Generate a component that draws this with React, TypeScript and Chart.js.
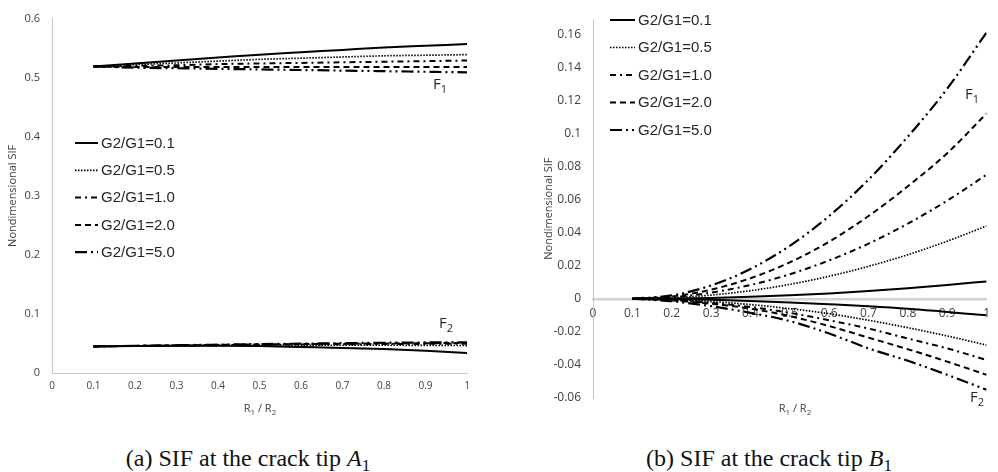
import React, { useEffect, useRef } from "react";
import { Chart, registerables } from "chart.js";

Chart.register(...registerables);

// ---------- data ----------
const rRatio = [0.1, 0.2, 0.3, 0.4, 0.5, 0.6, 0.7, 0.8, 0.9, 1.0];
const ratioLabels = ["G2/G1=0.1", "G2/G1=0.5", "G2/G1=1.0", "G2/G1=2.0", "G2/G1=5.0"];

// (a) crack tip A1
const aF1_g01 = [0.519, 0.524, 0.529, 0.534, 0.539, 0.543, 0.547, 0.551, 0.554, 0.557];
const aF1_g05 = [0.519, 0.522, 0.525, 0.528, 0.531, 0.533, 0.535, 0.537, 0.538, 0.539];
const aF1_g10 = [0.519, 0.52, 0.521, 0.523, 0.524, 0.525, 0.526, 0.527, 0.528, 0.529];
const aF1_g20 = [0.519, 0.518, 0.518, 0.518, 0.518, 0.518, 0.518, 0.518, 0.518, 0.518];
const aF1_g50 = [0.519, 0.517, 0.516, 0.515, 0.514, 0.513, 0.512, 0.511, 0.51, 0.509];

const aF2_g01 = [0.045, 0.0455, 0.046, 0.046, 0.0455, 0.044, 0.0425, 0.0405, 0.0375, 0.034];
const aF2_g05 = [0.045, 0.0455, 0.046, 0.0465, 0.047, 0.047, 0.047, 0.047, 0.0468, 0.0465];
const aF2_g10 = [0.045, 0.0458, 0.0465, 0.047, 0.0478, 0.0482, 0.0487, 0.049, 0.0493, 0.0495];
const aF2_g20 = [0.045, 0.046, 0.0468, 0.0476, 0.0484, 0.049, 0.0496, 0.05, 0.0505, 0.051];
const aF2_g50 = [0.045, 0.046, 0.047, 0.048, 0.049, 0.0497, 0.0505, 0.0512, 0.0517, 0.052];

// (b) crack tip B1
const bF1_g01 = [0, 0.0001, 0.0005, 0.0012, 0.0021, 0.0032, 0.0047, 0.0064, 0.0083, 0.0105];
const bF1_g05 = [0, 0.0005, 0.0022, 0.0049, 0.0087, 0.0136, 0.0196, 0.0266, 0.0348, 0.044];
const bF1_g10 = [0, 0.0009, 0.0037, 0.0083, 0.0148, 0.0232, 0.0333, 0.0454, 0.0593, 0.075];
const bF1_g20 = [0, 0.0014, 0.0055, 0.0124, 0.022, 0.0345, 0.05, 0.068, 0.088, 0.112];
const bF1_g50 = [0, 0.002, 0.008, 0.018, 0.032, 0.05, 0.072, 0.098, 0.127, 0.161];

const bF2_g01 = [0, -0.0002, -0.0006, -0.0013, -0.0022, -0.0033, -0.0045, -0.006, -0.008, -0.01];
const bF2_g05 = [0, -0.0005, -0.0017, -0.0035, -0.006, -0.009, -0.013, -0.0175, -0.0225, -0.028];
const bF2_g10 = [0, -0.0008, -0.0025, -0.005, -0.0085, -0.013, -0.018, -0.024, -0.03, -0.037];
const bF2_g20 = [0, -0.001, -0.003, -0.006, -0.0105, -0.0165, -0.0235, -0.0305, -0.038, -0.046];
const bF2_g50 = [0, -0.0015, -0.0045, -0.0085, -0.0135, -0.021, -0.03, -0.0375, -0.046, -0.055];

// ticks
const xTickValues = [0, 0.1, 0.2, 0.3, 0.4, 0.5, 0.6, 0.7, 0.8, 0.9, 1];
const xTickLabels = ["0", "0.1", "0.2", "0.3", "0.4", "0.5", "0.6", "0.7", "0.8", "0.9", "1"];
const aYTickValues = [0, 0.1, 0.2, 0.3, 0.4, 0.5, 0.6];
const aYTickLabels = ["0", "0.1", "0.2", "0.3", "0.4", "0.5", "0.6"];
const bYTickValues = [-0.06, -0.04, -0.02, 0, 0.02, 0.04, 0.06, 0.08, 0.1, 0.12, 0.14, 0.16];
const bYTickLabels = ["-0.06", "-0.04", "-0.02", "0", "0.02", "0.04", "0.06", "0.08", "0.1", "0.12", "0.14", "0.16"];

// ---------- styles ----------
const FONT = '"Open Sans", sans-serif';
const TICK_COLOR = "#404040";
const AXIS_COLOR = "#c6c6c6";
const lineDashes = [[], [1.5, 1.5], [6, 4, 2, 4], [6, 4], [12, 4, 2, 4, 2, 4]];
const lineWidths = [2, 1.7, 2, 2, 2.2];

function buildDatasets(f1: number[][], f2: number[][]) {
  const ds: any[] = [];
  [f1, f2].forEach((group, g) =>
    group.forEach((vals, i) =>
      ds.push({
        label: `${ratioLabels[i]} F${g + 1}`,
        data: vals.map((v, k) => ({ x: rRatio[k], y: v })),
        borderColor: "#000",
        backgroundColor: "#000",
        borderWidth: lineWidths[i],
        borderDash: lineDashes[i],
        borderCapStyle: "butt",
        pointRadius: 0,
        fill: false,
        cubicInterpolationMode: "monotone",
      })
    )
  );
  return ds;
}

function legendPlugin(x0: number, x1: number, textX: number, y0: number, dy: number) {
  return {
    id: "customLegend",
    afterDraw(chart: any) {
      const ctx = chart.ctx;
      ctx.save();
      ratioLabels.forEach((lab, i) => {
        const y = y0 + i * dy;
        ctx.beginPath();
        ctx.setLineDash(lineDashes[i]);
        ctx.lineWidth = lineWidths[i];
        ctx.strokeStyle = "#000";
        ctx.moveTo(x0, y);
        ctx.lineTo(x1, y);
        ctx.stroke();
        ctx.setLineDash([]);
        ctx.fillStyle = "#262626";
        ctx.font = '15px "Liberation Sans", Arial, sans-serif';
        ctx.textBaseline = "middle";
        ctx.textAlign = "left";
        ctx.fillText(lab, textX, y + 0.5);
      });
      ctx.restore();
    },
  };
}

type SubText = { main: string; sub: string; x: number; y: number; size: number; subSize: number; drop: number };

function drawSubText(ctx: CanvasRenderingContext2D, parts: [string, boolean][], x: number, y: number, size: number, subSize: number, drop: number, center: boolean) {
  const widths = parts.map(([t, s]) => {
    ctx.font = `${s ? subSize : size}px ${FONT}`;
    return ctx.measureText(t).width;
  });
  const total = widths.reduce((a, b) => a + b, 0);
  let cx = center ? x - total / 2 : x;
  parts.forEach(([t, s], i) => {
    ctx.font = `${s ? subSize : size}px ${FONT}`;
    ctx.fillText(t, cx, s ? y + drop : y);
    cx += widths[i];
  });
}

function labelsPlugin(fLabels: SubText[], titleX: number, titleY: number) {
  return {
    id: "customLabels",
    afterDraw(chart: any) {
      const ctx = chart.ctx;
      ctx.save();
      ctx.fillStyle = "#262626";
      ctx.textBaseline = "alphabetic";
      ctx.textAlign = "left";
      fLabels.forEach((f) => {
        drawSubText(ctx, [[f.main, false], [f.sub, true]], f.x, f.y, f.size, f.subSize, f.drop, false);
      });
      ctx.fillStyle = TICK_COLOR;
      drawSubText(ctx, [["R", false], ["1", true], [" / R", false], ["2", true]], titleX, titleY, 11, 8, 2.5, true);
      ctx.restore();
    },
  };
}

function tickSetter(values: number[]) {
  return (scale: any) => {
    scale.ticks = values.map((v) => ({ value: v }));
  };
}

function configA(): any {
  return {
    type: "line",
    data: {
      datasets: buildDatasets(
        [aF1_g01, aF1_g05, aF1_g10, aF1_g20, aF1_g50],
        [aF2_g01, aF2_g05, aF2_g10, aF2_g20, aF2_g50]
      ),
    },
    options: {
      responsive: false,
      animation: false,
      layout: { padding: { left: 2, top: 12, right: 33, bottom: 0 } },
      plugins: { legend: { display: false }, tooltip: { enabled: false } },
      scales: {
        x: {
          type: "linear",
          min: 0,
          max: 1,
          afterBuildTicks: tickSetter(xTickValues),
          afterFit: (s: any) => {
            s.height = 47;
          },
          grid: { display: false, drawTicks: false },
          border: { display: true, color: AXIS_COLOR, width: 1 },
          ticks: {
            padding: 7,
            color: TICK_COLOR,
            font: { family: FONT, size: 10 },
            maxRotation: 0,
            autoSkip: false,
            callback: (_v: any, i: number) => xTickLabels[i],
          },
        },
        y: {
          type: "linear",
          min: 0,
          max: 0.6,
          afterBuildTicks: tickSetter(aYTickValues),
          afterFit: (s: any) => {
            s.width = 50;
          },
          grid: { display: false, drawTicks: false },
          border: { display: true, color: AXIS_COLOR, width: 1 },
          ticks: {
            padding: 12,
            color: TICK_COLOR,
            font: { family: FONT, size: 11 },
            autoSkip: false,
            callback: (_v: any, i: number) => aYTickLabels[i],
          },
          title: {
            display: true,
            text: "Nondimensional SIF",
            color: TICK_COLOR,
            font: { family: FONT, size: 11 },
            padding: { top: 4, bottom: 0 },
          },
        },
      },
    },
    plugins: [
      legendPlugin(75, 98, 101, 143, 27.3),
      labelsPlugin(
        [
          { main: "F", sub: "1", x: 433, y: 89, size: 15, subSize: 11, drop: 4 },
          { main: "F", sub: "2", x: 439, y: 328, size: 15, subSize: 11, drop: 4 },
        ],
        260,
        412
      ),
    ],
  };
}

function configB(): any {
  return {
    type: "line",
    data: {
      datasets: buildDatasets(
        [bF1_g01, bF1_g05, bF1_g10, bF1_g20, bF1_g50],
        [bF2_g01, bF2_g05, bF2_g10, bF2_g20, bF2_g50]
      ),
    },
    options: {
      responsive: false,
      animation: false,
      layout: { padding: { left: 38, top: 12, right: 4, bottom: 22 } },
      plugins: { legend: { display: false }, tooltip: { enabled: false } },
      scales: {
        x: {
          type: "linear",
          min: 0,
          max: 1,
          position: { y: 0 },
          afterBuildTicks: tickSetter(xTickValues),
          grid: { display: false, drawTicks: false },
          border: { display: true, color: "#d2d2d2", width: 2.5 },
          ticks: {
            padding: 8,
            color: TICK_COLOR,
            font: { family: FONT, size: 12 },
            maxRotation: 0,
            autoSkip: false,
            callback: (_v: any, i: number) => xTickLabels[i],
          },
        },
        y: {
          type: "linear",
          min: -0.06,
          max: 0.169,
          afterBuildTicks: tickSetter(bYTickValues),
          afterFit: (s: any) => {
            s.width = 55;
          },
          grid: { display: false, drawTicks: false },
          border: { display: true, color: AXIS_COLOR, width: 1 },
          ticks: {
            padding: 12,
            color: TICK_COLOR,
            font: { family: FONT, size: 12 },
            autoSkip: false,
            callback: (_v: any, i: number) => bYTickLabels[i],
          },
          title: {
            display: true,
            text: "Nondimensional SIF",
            color: TICK_COLOR,
            font: { family: FONT, size: 11 },
            padding: { top: 4, bottom: 0 },
          },
        },
      },
    },
    plugins: [
      legendPlugin(110, 135, 138, 20, 27.5),
      labelsPlugin(
        [
          { main: "F", sub: "1", x: 465, y: 99, size: 15, subSize: 11, drop: 4 },
          { main: "F", sub: "2", x: 470, y: 402, size: 15, subSize: 11, drop: 4 },
        ],
        295,
        412
      ),
    ],
  };
}

function ChartCanvas({ config, left, width, height }: { config: () => any; left: number; width: number; height: number }) {
  const ref = useRef<HTMLCanvasElement | null>(null);
  useEffect(() => {
    if (!ref.current) return;
    const chart = new Chart(ref.current, config());
    return () => chart.destroy();
  }, [config]);
  return (
    <canvas
      ref={ref}
      width={width}
      height={height}
      style={{ position: "absolute", left, top: 0, width, height, display: "block" }}
    />
  );
}

const captionStyle: React.CSSProperties = {
  position: "absolute",
  top: 446,
  width: 400,
  textAlign: "center",
  fontFamily: '"Liberation Serif", "Times New Roman", serif',
  fontSize: 24,
  lineHeight: "24px",
  color: "#111",
  whiteSpace: "nowrap",
};

export default function App() {
  return (
    <div style={{ position: "fixed", left: 0, top: 0, width: 998, height: 472, background: "#fff", overflow: "hidden" }}>
      <ChartCanvas config={configA} left={0} width={500} height={420} />
      <ChartCanvas config={configB} left={500} width={498} height={420} />
      <div style={{ ...captionStyle, left: 48 }}>
        (a) SIF at the crack tip <span style={{ fontStyle: "italic" }}>A</span>
        <span style={{ fontSize: 17, position: "relative", top: 5 }}>1</span>
      </div>
      <div style={{ ...captionStyle, left: 569 }}>
        (b) SIF at the crack tip <span style={{ fontStyle: "italic" }}>B</span>
        <span style={{ fontSize: 17, position: "relative", top: 5 }}>1</span>
      </div>
    </div>
  );
}
